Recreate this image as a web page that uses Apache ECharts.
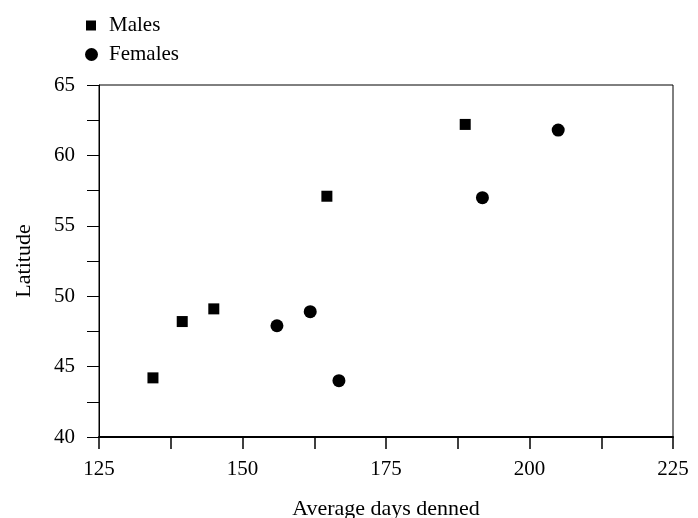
<!DOCTYPE html>
<html>
<head>
<meta charset="utf-8">
<style>
  html, body { margin: 0; padding: 0; background: #fff; }
  #chart { width: 698px; height: 518px; }
</style>
<script src="https://cdn.jsdelivr.net/npm/echarts@6/dist/echarts.min.js"></script>
</head>
<body>
<div id="chart"></div>
<script>
  // [average days denned, latitude]
  var males = [[134.4, 44.2], [139.5, 48.2], [145.0, 49.1], [164.7, 57.1], [188.8, 62.2]]
  var females = [[156.0, 47.9], [161.8, 48.9], [166.8, 44.0], [191.8, 57.0], [205.0, 61.8]]
  var xRange = [125, 225, 25]
  var yRange = [40, 65, 5]

  var font = 'Liberation Serif, Times New Roman, serif'
  var chart = echarts.init(document.getElementById('chart'))

  chart.setOption({
    backgroundColor: '#fff',
    textStyle: { fontFamily: font, color: '#000' },
    legend: [{
      data: ['Males'],
      orient: 'vertical',
      left: 86,
      top: 15,
      padding: 0,
      icon: 'rect',
      itemWidth: 10,
      itemHeight: 10,
      textStyle: { fontFamily: font, fontSize: 21, color: '#000', padding: [0, 0, 0, 8] }
    }, {
      data: ['Females'],
      orient: 'vertical',
      left: 85,
      top: 44,
      padding: 0,
      icon: 'circle',
      itemWidth: 13,
      itemHeight: 13,
      textStyle: { fontFamily: font, fontSize: 21, color: '#000', padding: [0, 0, 0, 6] }
    }],
    grid: {
      left: 99,
      right: 25,
      top: 85,
      bottom: 81,
      outerBoundsMode: 'none',
      show: true,
      borderColor: '#000',
      borderWidth: 1
    },
    xAxis: {
      type: 'value',
      min: xRange[0],
      max: xRange[1],
      interval: xRange[2],
      name: 'Average days denned',
      nameLocation: 'middle',
      nameGap: 61,
      nameTextStyle: { fontFamily: font, fontSize: 22, color: '#000' },
      axisLine: { lineStyle: { color: '#000', width: 2 } },
      axisTick: { length: 12, lineStyle: { color: '#000', width: 1.5 } },
      minorTick: { show: true, splitNumber: 2, length: 12, lineStyle: { color: '#000', width: 1.5 } },
      axisLabel: { margin: 22, fontFamily: font, fontSize: 21, color: '#000' },
      splitLine: { show: false }
    },
    yAxis: {
      type: 'value',
      min: yRange[0],
      max: yRange[1],
      interval: yRange[2],
      name: 'Latitude',
      nameLocation: 'middle',
      nameGap: 64,
      nameTextStyle: { fontFamily: font, fontSize: 22, color: '#000' },
      axisLine: { show: true, lineStyle: { color: '#000', width: 1 } },
      axisTick: { show: true, length: 12, lineStyle: { color: '#000', width: 1 } },
      minorTick: { show: true, splitNumber: 2, length: 12, lineStyle: { color: '#000', width: 1 } },
      axisLabel: { margin: 24, fontFamily: font, fontSize: 21, color: '#000' },
      splitLine: { show: false }
    },
    series: [{
      name: 'Males',
      type: 'scatter',
      symbol: 'rect',
      symbolSize: 11,
      itemStyle: { color: '#000', opacity: 1 },
      data: males
    }, {
      name: 'Females',
      type: 'scatter',
      symbol: 'circle',
      symbolSize: 13,
      itemStyle: { color: '#000', opacity: 1 },
      data: females
    }]
  })
</script>
</body>
</html>
